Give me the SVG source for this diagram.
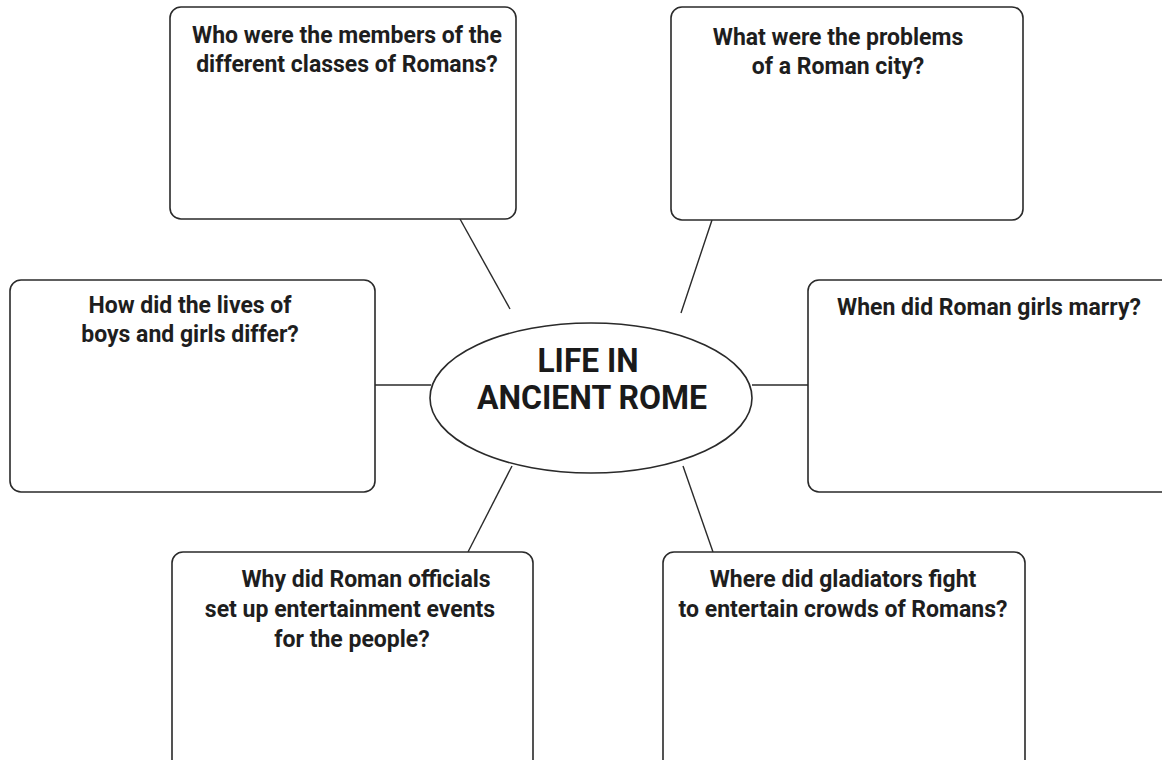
<svg xmlns="http://www.w3.org/2000/svg" width="1162" height="760" viewBox="0 0 1162 760">
<style>
.box{fill:#fff;stroke:#2a2a2a;stroke-width:1.6}
.q{font-family:"Roboto","Liberation Sans",sans-serif;font-weight:bold;font-size:23px;fill:#1e1e1e;text-anchor:middle}
.t{font-family:"Roboto","Liberation Sans",sans-serif;font-weight:bold;font-size:34px;fill:#1a1a1a;text-anchor:middle}
.c{stroke:#2a2a2a;stroke-width:1.4;fill:none}
</style>
<rect width="1162" height="760" fill="#fff"/>
<g id="connectors">
<line class="c" x1="460" y1="219" x2="510" y2="309"/>
<line class="c" x1="712" y1="220" x2="681" y2="313"/>
<line class="c" x1="375" y1="385" x2="431" y2="385"/>
<line class="c" x1="752" y1="385" x2="808" y2="385"/>
<line class="c" x1="512" y1="466" x2="468" y2="552"/>
<line class="c" x1="683" y1="466" x2="713" y2="552"/>
</g>
<g id="center">
<ellipse class="box" cx="591" cy="398" rx="161" ry="75"/>
<text class="t" x="588" y="372" textLength="101" lengthAdjust="spacingAndGlyphs">LIFE IN</text>
<text class="t" x="592" y="409" textLength="230" lengthAdjust="spacingAndGlyphs">ANCIENT ROME</text>
</g>
<g id="classes">
<rect class="box" x="170" y="7" width="346" height="212" rx="11"/>
<text class="q" x="347" y="43">Who were the members of the</text>
<text class="q" x="347" y="72">different classes of Romans?</text>
</g>
<g id="problems">
<rect class="box" x="671" y="7" width="352" height="213" rx="11"/>
<text class="q" x="838" y="45">What were the problems</text>
<text class="q" x="838" y="74">of a Roman city?</text>
</g>
<g id="lives">
<rect class="box" x="10" y="280" width="365" height="212" rx="11"/>
<text class="q" x="190" y="313">How did the lives of</text>
<text class="q" x="190" y="342">boys and girls differ?</text>
</g>
<g id="marry">
<rect class="box" x="808" y="280" width="370" height="212" rx="11"/>
<text class="q" x="989" y="315">When did Roman girls marry?</text>
</g>
<g id="officials">
<rect class="box" x="172" y="552" width="361" height="230" rx="11"/>
<text class="q" x="366" y="587">Why did Roman officials</text>
<text class="q" x="350" y="617">set up entertainment events</text>
<text class="q" x="352" y="647">for the people?</text>
</g>
<g id="gladiators">
<rect class="box" x="663" y="552" width="362" height="230" rx="11"/>
<text class="q" x="843" y="587">Where did gladiators fight</text>
<text class="q" x="843" y="617">to entertain crowds of Romans?</text>
</g>
</svg>
